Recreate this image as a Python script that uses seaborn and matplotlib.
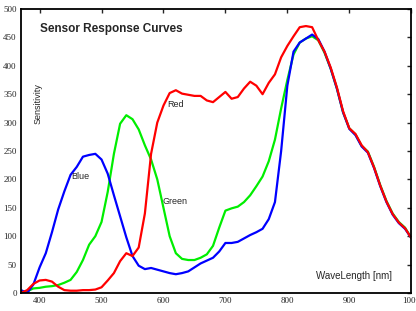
import numpy as np
import pandas as pd
import matplotlib
matplotlib.use('Agg')
import matplotlib.pyplot as plt
import seaborn as sns

# wavelength grid (nm)
wavelength = list(range(370, 1001, 10))

blue = [5, 0, 15, 45, 70, 107, 147, 179, 208, 222,
        240, 243, 245, 235, 210, 172, 135, 98, 65, 48,
        42, 44, 41, 38, 35, 33, 35, 38, 45, 52,
        57, 62, 73, 88, 88, 90, 96, 102, 107, 113,
        130, 160, 250, 365, 425, 441, 448, 455, 447, 425,
        395, 360, 318, 289, 278, 258, 247, 220, 188, 160,
        138, 123, 113, 97]

green = [0, 3, 8, 9, 11, 12, 14, 18, 23, 37,
         58, 85, 100, 125, 178, 245, 298, 313, 306, 288,
         260, 235, 200, 150, 100, 70, 60, 58, 58, 62,
         68, 83, 115, 145, 149, 152, 160, 172, 188, 205,
         232, 270, 325, 375, 420, 441, 448, 452, 445, 423,
         395, 360, 318, 290, 279, 259, 249, 222, 190, 162,
         140, 125, 115, 97]

red = [0, 5, 16, 22, 23, 20, 11, 5, 4, 4,
       5, 5, 6, 10, 22, 35, 56, 70, 65, 80,
       140, 245, 300, 330, 352, 357, 351, 349, 347, 347,
       339, 336, 345, 354, 342, 345, 360, 372, 365, 350,
       370, 385, 415, 435, 452, 468, 470, 468, 445, 425,
       397, 362, 320, 290, 280, 260, 248, 221, 189, 161,
       139, 124, 114, 97]

df = pd.DataFrame({
    'wavelength': wavelength * 3,
    'value': green + blue + red,
    'sensor': ['Green'] * len(wavelength) + ['Blue'] * len(wavelength) + ['Red'] * len(wavelength),
})

sns.set_style('white')

fig = plt.figure(figsize=(4.16, 3.11), dpi=100)
ax = fig.add_axes([0.0505, 0.058, 0.938, 0.913])

sns.lineplot(data=df, x='wavelength', y='value', hue='sensor',
             hue_order=['Green', 'Blue', 'Red'],
             palette={'Green': '#00ee00', 'Blue': '#0000ff', 'Red': '#ff0000'},
             linewidth=1.6, legend=False, ax=ax)

ax.set_xlim(370, 1000)
ax.set_ylim(0, 500)
ax.set_xticks([400, 500, 600, 700, 800, 900, 1000])
ax.set_yticks(range(0, 501, 50))
ax.set_xlabel('')
ax.set_ylabel('')
ax.tick_params(direction='in', length=3, width=1, top=True, right=True,
               labelsize=6.5, pad=3)
for lab in ax.get_xticklabels() + ax.get_yticklabels():
    lab.set_family('Liberation Serif')
for s in ax.spines.values():
    s.set_linewidth(1.3)
    s.set_color('black')

sans = 'Liberation Sans'
ax.text(400.5, 465, 'Sensor Response Curves', fontsize=8.5, fontweight='bold',
        family=sans, va='center', ha='left')
ax.text(397, 334, 'Sensitivity', fontsize=6.5, family=sans, rotation=90,
        va='center', ha='center')
ax.text(847, 30, 'WaveLength [nm]', fontsize=7, family=sans, va='center', ha='left')
ax.text(605.5, 332, 'Red', fontsize=6.5, family=sans, va='center', ha='left')
ax.text(450.6, 205, 'Blue', fontsize=6.5, family=sans, va='center', ha='left')
ax.text(599, 161, 'Green', fontsize=6.5, family=sans, va='center', ha='left')

fig.savefig('out.png', dpi=100)
